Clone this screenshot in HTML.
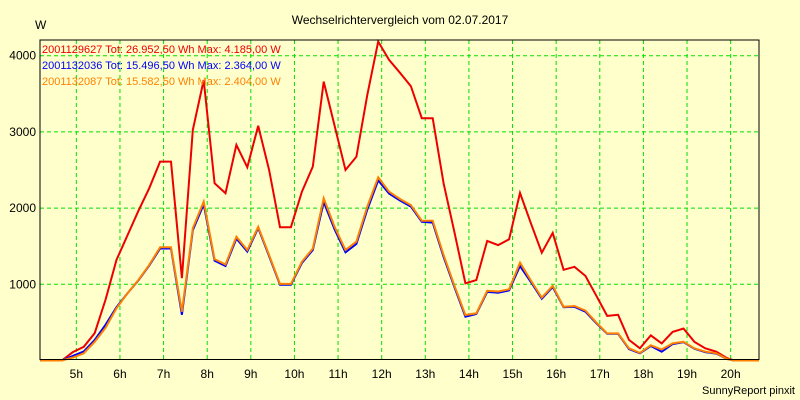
<!DOCTYPE html>
<html><head><meta charset="utf-8"><style>
body{margin:0;background:#ffffcc;}
svg{display:block;font-family:"Liberation Sans",sans-serif;}
</style></head><body>
<svg id="chart" width="800" height="400">
<rect x="0" y="0" width="800" height="400" fill="#ffffcc"/>
<text x="400" y="24" text-anchor="middle" font-size="12" fill="#000">Wechselrichtervergleich vom 02.07.2017</text>
<text x="35" y="29" font-size="12" fill="#000">W</text>
<g id="grid"></g>
<g id="ylabels"></g>
<g id="xlabels"></g>
<g id="series"></g>
<rect x="40" y="40" width="719" height="319.5" fill="none" stroke="#000" stroke-width="1"/>
<text x="42" y="53" font-size="11" fill="#ee0000">2001129627 Tot: 26.952,50 Wh Max: 4.185,00 W</text>
<text x="42" y="69" font-size="11" fill="#0000ff">2001132036 Tot: 15.496,50 Wh Max: 2.364,00 W</text>
<text x="42" y="85" font-size="11" fill="#ff8000">2001132087 Tot: 15.582,50 Wh Max: 2.404,00 W</text>
<text x="795" y="394" text-anchor="end" font-size="11" fill="#000">SunnyReport pinxit</text>
</svg>
<script>
const times=[4.17,4.67,4.92,5.17,5.42,5.67,5.92,6.17,6.42,6.67,6.92,7.17,7.42,7.67,7.92,8.17,8.42,8.67,8.92,9.17,9.42,9.67,9.92,10.17,10.42,10.67,10.92,11.17,11.42,11.67,11.92,12.17,12.42,12.67,12.92,13.17,13.42,13.67,13.92,14.17,14.42,14.67,14.92,15.17,15.42,15.67,15.92,16.17,16.42,16.67,16.92,17.17,17.42,17.67,17.92,18.17,18.42,18.67,18.92,19.17,19.42,19.67,19.92,20.08,20.65];
const redValues=[0,0,110,180,360,800,1320,1640,1960,2260,2610,2610,1080,3025,3680,2325,2195,2830,2535,3080,2500,1750,1750,2215,2545,3660,3080,2500,2675,3485,4185,3945,3775,3600,3180,3180,2325,1680,1013,1055,1570,1515,1590,2200,1800,1415,1675,1190,1230,1110,850,585,600,270,160,330,225,375,420,245,160,115,30,0,0];
const blueValues=[0,0,60,120,270,470,700,880,1050,1245,1470,1470,600,1710,2050,1310,1240,1600,1430,1740,1370,995,995,1280,1450,2080,1720,1420,1530,1980,2364,2190,2100,2020,1820,1810,1360,960,575,610,900,890,920,1240,1030,810,965,700,705,640,490,350,350,150,95,190,115,215,240,155,110,90,18,0,0];
const orangeValues=[0,0,40,95,245,430,685,880,1055,1255,1485,1485,640,1735,2085,1330,1260,1625,1450,1755,1385,1005,1005,1295,1470,2130,1755,1450,1560,2020,2404,2215,2120,2040,1835,1835,1385,980,597,620,915,905,935,1285,1050,825,980,705,715,655,500,355,355,160,100,200,145,225,245,160,115,95,20,0,0];
const yTicks=[1000,2000,3000,4000];
const yTickLabels=["1000","2000","3000","4000"];
const xTicks=[5,6,7,8,9,10,11,12,13,14,15,16,17,18,19,20];
const xTickLabels=["5h","6h","7h","8h","9h","10h","11h","12h","13h","14h","15h","16h","17h","18h","19h","20h"];

const NS="http://www.w3.org/2000/svg";
const X0=40,X1=759,T0=4.167,T1=20.65,Y0=360.5,PX_PER_W=0.0762;
function xs(t){return X0+(t-T0)/(T1-T0)*(X1-X0);}
function ys(v){return Y0-v*PX_PER_W;}
const grid=document.getElementById('grid');
const yl=document.getElementById('ylabels');
const xl=document.getElementById('xlabels');
yTicks.forEach((v,i)=>{
  const l=document.createElementNS(NS,'line');
  l.setAttribute('x1',X0);l.setAttribute('x2',X1);l.setAttribute('y1',ys(v));l.setAttribute('y2',ys(v));
  l.setAttribute('stroke','#00e000');l.setAttribute('stroke-dasharray','4,3');
  
  
  grid.appendChild(l);
  const t=document.createElementNS(NS,'text');
  t.setAttribute('x',36);t.setAttribute('y',ys(v)+4);t.setAttribute('text-anchor','end');t.setAttribute('font-size','12');
  t.textContent=yTickLabels[i];
  
  
  yl.appendChild(t);
});
xTicks.forEach((h,i)=>{
  const l=document.createElementNS(NS,'line');
  l.setAttribute('x1',xs(h));l.setAttribute('x2',xs(h));l.setAttribute('y1',40);l.setAttribute('y2',359.5);
  l.setAttribute('stroke','#00e000');l.setAttribute('stroke-dasharray','4,3');
  
  
  grid.appendChild(l);
  const t=document.createElementNS(NS,'text');
  t.setAttribute('x',xs(h));t.setAttribute('y',378);t.setAttribute('text-anchor','middle');t.setAttribute('font-size','12');
  t.textContent=xTickLabels[i];
  
  
  xl.appendChild(t);
});
const sg=document.getElementById('series');
[[redValues,'#ee0000','series-2001129627'],[blueValues,'#0000ff','series-2001132036'],[orangeValues,'#ff8000','series-2001132087']].forEach(([vals,col,name])=>{
  const p=document.createElementNS(NS,'polyline');
  p.setAttribute('points',vals.map((v,i)=>xs(times[i]).toFixed(1)+','+ys(v).toFixed(1)).join(' '));
  p.setAttribute('fill','none');p.setAttribute('stroke',col);p.setAttribute('stroke-width','2');
  
  
  sg.appendChild(p);
});
</script>
</body></html>
